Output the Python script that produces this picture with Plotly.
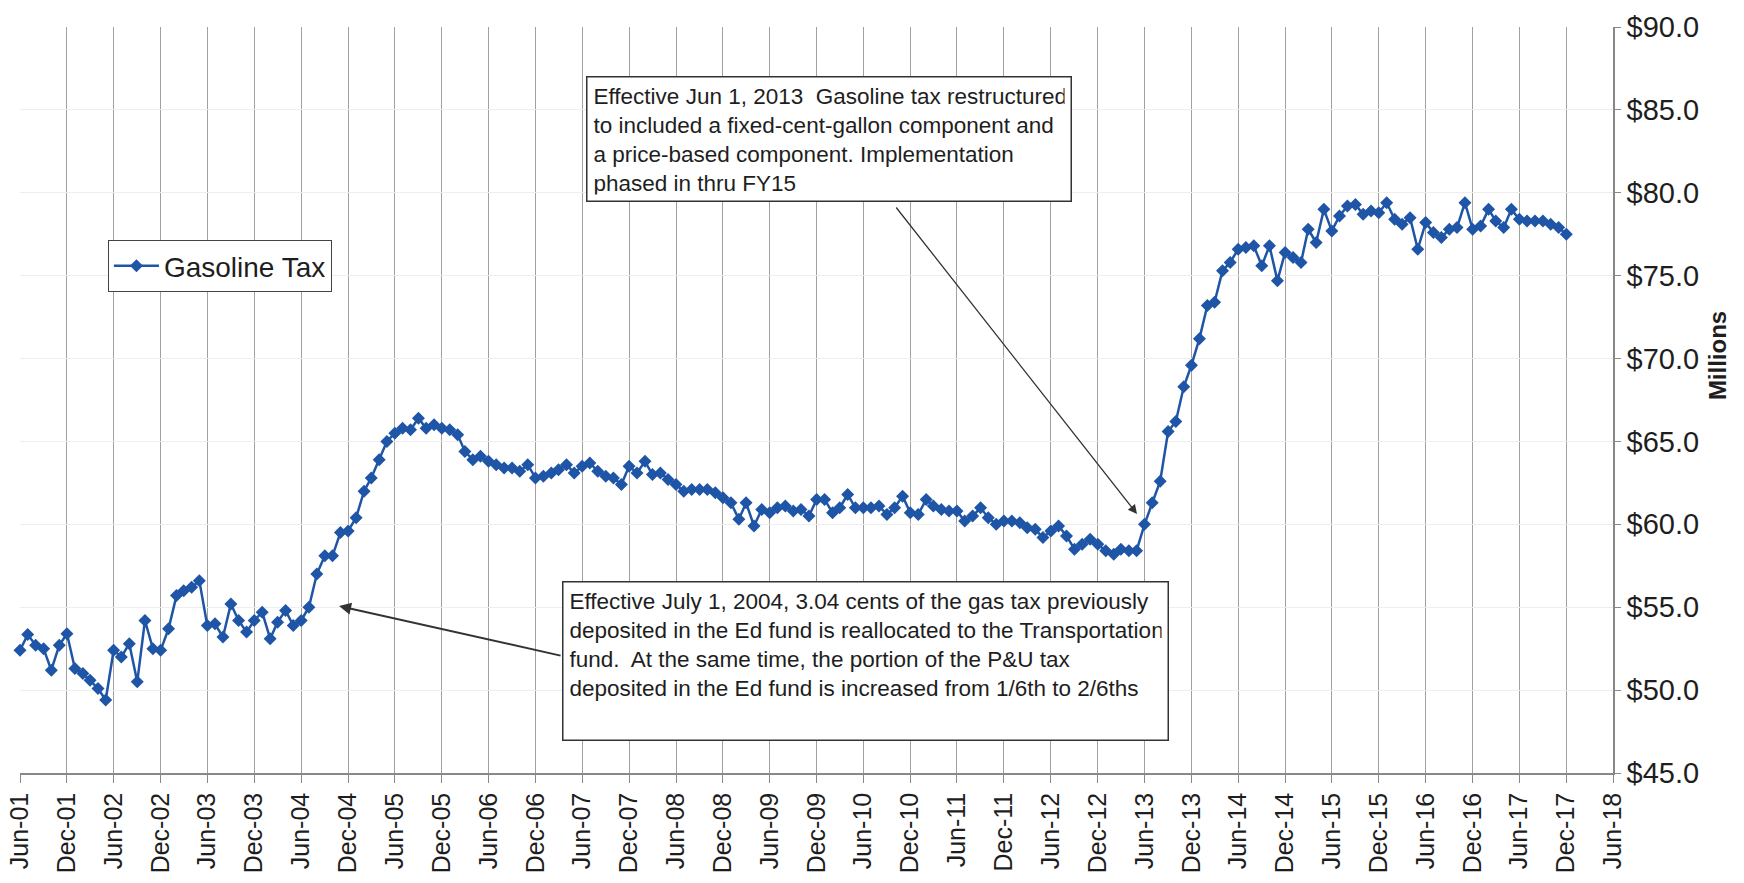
import pandas as pd
import plotly.graph_objects as go

# Monthly gasoline tax revenue ($ millions), Jun-2001 .. Dec-2017
y2001 = [52.4, 53.35, 52.7, 52.5, 51.2, 52.7, 53.4]
y2002 = [51.3, 51.0, 50.6, 50.1, 49.4, 52.4, 52.0, 52.8, 50.5, 54.2, 52.5, 52.4]
y2003 = [53.7, 55.7, 56.0, 56.2, 56.6, 53.9, 54.0, 53.2, 55.2, 54.2, 53.5, 54.2]
y2004 = [54.7, 53.1, 54.1, 54.8, 53.9, 54.2, 55.0, 57.0, 58.1, 58.1, 59.5, 59.6]
y2005 = [60.4, 62.0, 62.8, 63.9, 65.0, 65.5, 65.8, 65.7, 66.4, 65.8, 66.0, 65.8]
y2006 = [65.7, 65.4, 64.4, 63.9, 64.1, 63.8, 63.6, 63.4, 63.4, 63.2, 63.6, 62.8]
y2007 = [62.9, 63.1, 63.3, 63.6, 63.1, 63.5, 63.7, 63.2, 62.9, 62.8, 62.4, 63.5]
y2008 = [63.1, 63.8, 63.0, 63.1, 62.7, 62.4, 62.0, 62.1, 62.1, 62.1, 61.9, 61.6]
y2009 = [61.3, 60.3, 61.3, 59.9, 60.9, 60.7, 61.0, 61.1, 60.8, 60.9, 60.5, 61.5]
y2010 = [61.5, 60.7, 61.0, 61.8, 61.0, 61.0, 61.0, 61.1, 60.6, 61.0, 61.7, 60.7]
y2011 = [60.6, 61.5, 61.1, 60.9, 60.8, 60.8, 60.2, 60.5, 61.0, 60.4, 60.0, 60.2]
y2012 = [60.2, 60.1, 59.8, 59.7, 59.2, 59.6, 59.9, 59.3, 58.5, 58.8, 59.1, 58.8]
y2013 = [58.4, 58.2, 58.5, 58.4, 58.4, 60.0, 61.3, 62.6, 65.6, 66.2, 68.3, 69.6]
y2014 = [71.2, 73.2, 73.4, 75.3, 75.8, 76.6, 76.7, 76.8, 75.6, 76.8, 74.7, 76.4]
y2015 = [76.1, 75.8, 77.8, 77.0, 79.0, 77.7, 78.6, 79.2, 79.3, 78.7, 78.9, 78.8]
y2016 = [79.4, 78.4, 78.1, 78.5, 76.6, 78.2, 77.6, 77.3, 77.8, 77.9, 79.4, 77.8]
y2017 = [78.0, 79.0, 78.3, 77.9, 79.0, 78.4, 78.3, 78.3, 78.3, 78.1, 77.9, 77.5]

values = (y2001 + y2002 + y2003 + y2004 + y2005 + y2006 + y2007 + y2008 + y2009
          + y2010 + y2011 + y2012 + y2013 + y2014 + y2015 + y2016 + y2017)
months = pd.date_range(start="2001-06-01", periods=len(values), freq="MS")

tick_dates = pd.date_range(start="2001-06-01", end="2018-06-01", freq="6MS")
tick_labels = [d.strftime("%b-%y") for d in tick_dates]
y_ticks = [45, 50, 55, 60, 65, 70, 75, 80, 85, 90]
y_tick_labels = ["$%.1f" % v for v in y_ticks]

series_name = "Gasoline Tax"
note_2013 = ("Effective Jun 1, 2013  Gasoline tax restructured<br>"
             "to included a fixed-cent-gallon component and<br>"
             "a price-based component. Implementation<br>"
             "phased in thru FY15")
note_2004 = ("Effective July 1, 2004, 3.04 cents of the gas tax previously<br>"
             "deposited in the Ed fund is reallocated to the Transportation<br>"
             "fund.  At the same time, the portion of the P&amp;U tax<br>"
             "deposited in the Ed fund is increased from 1/6th to 2/6ths")

FONT = "Liberation Sans, Arial, sans-serif"
BLUE = "#1F55A6"
TXT = "#1E1E1E"

fig = go.Figure()
fig.add_trace(go.Scatter(
    x=months, y=values, name=series_name, mode="lines+markers",
    line=dict(color=BLUE, width=2.5),
    marker=dict(symbol="diamond", size=10, color=BLUE),
    showlegend=True, cliponaxis=False,
))

fig.update_layout(
    width=1744, height=883,
    margin=dict(l=20, r=131, t=27, b=110),
    paper_bgcolor="white", plot_bgcolor="white",
    font=dict(family=FONT, color=TXT),
    showlegend=True,
    legend=dict(
        x=0.0552, y=0.7145, xanchor="left", yanchor="top",
        bgcolor="white", bordercolor="#444444", borderwidth=1,
        font=dict(size=28, family=FONT, color=TXT),
        itemwidth=45,
    ),
    xaxis=dict(
        type="date", automargin=False, ticklabeloverflow="allow",
        range=[tick_dates[0], tick_dates[-1]],
        tickmode="array", tickvals=list(tick_dates), ticktext=tick_labels,
        tickangle=-90, tickfont=dict(size=25, family=FONT, color=TXT),
        ticks="outside", ticklen=8, tickcolor="#888888",
        showgrid=True, gridcolor="#A0A0A0", gridwidth=1,
        showline=True, linecolor="#888888", linewidth=1.5,
        zeroline=False,
    ),
    yaxis=dict(
        side="right", range=[45, 90], automargin=False, ticklabeloverflow="allow",
        tickmode="array", tickvals=y_ticks, ticktext=y_tick_labels,
        tickfont=dict(size=29, family=FONT, color=TXT),
        ticks="outside", ticklen=6, tickcolor="#888888",
        showgrid=True, gridcolor="#EEEEEE", gridwidth=1,
        showline=True, linecolor="#888888", linewidth=1.5,
        zeroline=False,
    ),
)

annotations = [
    # axis title on the right
    dict(text="<b>Millions</b>", xref="paper", yref="paper", x=1.066, y=0.559,
         textangle=-90, showarrow=False, font=dict(size=24, family=FONT, color=TXT),
         xanchor="center", yanchor="middle"),
    # 2013 note box
    dict(text=note_2013, xref="paper", yref="paper", x=0.3553, y=0.9343,
         xanchor="left", yanchor="top", align="left", valign="top",
         showarrow=False, width=471, height=111, borderpad=6,
         bgcolor="white", bordercolor="#333333", borderwidth=1.5,
         font=dict(size=22.5, family=FONT, color=TXT)),
    # 2004 note box
    dict(text=note_2004, xref="paper", yref="paper", x=0.3402, y=0.2574,
         xanchor="left", yanchor="top", align="left", valign="top",
         showarrow=False, width=592, height=145, borderpad=6,
         bgcolor="white", bordercolor="#333333", borderwidth=1.5,
         font=dict(size=22.5, family=FONT, color=TXT)),
    # arrows
    dict(text="", xref="paper", yref="paper", x=0.7012, y=0.3472,
         axref="pixel", ayref="pixel", ax=-242, ay=-308,
         showarrow=True, arrowhead=2, arrowsize=1.4, arrowwidth=1.3,
         arrowcolor="#333333"),
    dict(text="", xref="paper", yref="paper", x=0.2003, y=0.2239,
         axref="pixel", ayref="pixel", ax=223, ay=50,
         showarrow=True, arrowhead=2, arrowsize=1.2, arrowwidth=2,
         arrowcolor="#333333"),
]
fig.update_layout(annotations=annotations)

# remove the default page margin so the figure fills the window exactly
fig.write_html("out.html", config={"displayModeBar": False},
               post_script="document.body.style.margin='0';")
